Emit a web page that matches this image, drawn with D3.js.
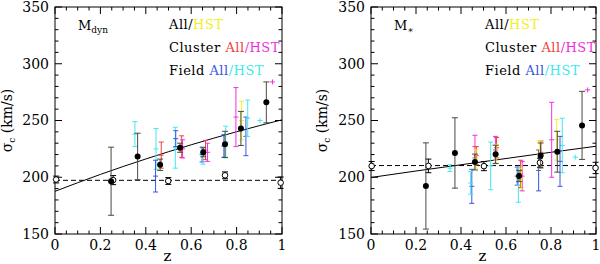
<!DOCTYPE html>
<html>
<head>
<meta charset="utf-8">
<script src="https://cdn.jsdelivr.net/npm/d3@7/dist/d3.min.js"></script>
<style>
body { margin: 0; background: #fff; }
svg { display: block; }
text { font-family: 'DejaVu Serif', 'Liberation Serif', serif; fill: #000; }
</style>
</head>
<body>
<svg id="chart" width="600" height="264"></svg>
<script>
// sigma_c vs redshift, two panels (M_dyn left, M_* right)

const yTicks = [150, 200, 250, 300, 350];
const xTicks = [0, 0.2, 0.4, 0.6, 0.8, 1];
const xTickLabels = ['0', '0.2', '0.4', '0.6', '0.8', '1'];

// fitted curves [z, sigma]
const dynFit = [[0, 187.6], [0.2, 202.5], [0.4, 216.1], [0.6, 228.6], [0.8, 240.1], [1, 250.6]];
const starFit = [[0, 199.8], [0.2, 205.5], [0.4, 211], [0.6, 216.5], [0.8, 222], [1, 227.3]];
const dynLocalLevel = 197.3;
const starLocalLevel = 210.3;

// binned "All" points [z, sigma, err]
const dynAll = [[0.247, 196.5, 30], [0.364, 218.3, 20.5], [0.463, 211, 5], [0.551, 226, 4], [0.653, 222, 4], [0.749, 229, 11.5], [0.819, 243, 15], [0.931, 266, 18]];
const starAll = [[0.244, 192.3, 38], [0.373, 221.4, 31], [0.462, 213.4, 7], [0.554, 220.2, 8], [0.658, 201.1, 5], [0.754, 219.2, 11], [0.828, 222.5, 18], [0.938, 245.7, 30]];

// local reference points (open circles)
const dynLocal = [[0.005, 198, 3], [0.256, 197.5, 4], [0.499, 196.7, 3], [0.749, 201.7, 3], [0.994, 195.2, 5]];
const starLocal = [[0.003, 209.9, 4], [0.255, 210, 6], [0.502, 209.8, 4], [0.751, 212.8, 4], [0.998, 208.2, 5]];

// sub-samples [series, z, sigma, err]  (err 0 -> plain cross)
const dynSub = [
    ['fdHst', 0.352, 238, 11], ['fdHst', 0.445, 225, 18], ['fdAll', 0.443, 201, 14], ['clAll', 0.468, 219.5, 11.5],
    ['fdHst', 0.53, 226, 18], ['fdAll', 0.532, 234, 7], ['clAll', 0.558, 227, 9.5], ['clHst', 0.562, 225, 8],
    ['fdAll', 0.648, 220, 6.5], ['fdHst', 0.652, 219, 7.5], ['clAll', 0.663, 224, 8.5], ['clHst', 0.672, 222, 8],
    ['fdAll', 0.744, 227.5, 10], ['fdHst', 0.752, 231, 14], ['clHst', 0.797, 253, 26], ['allHst', 0.822, 250, 17],
    ['fdAll', 0.841, 236, 17], ['fdHst', 0.849, 252, 16], ['fdHst', 0.903, 250, 0], ['clHst', 0.958, 284, 0]
];
const starSub = [
    ['fdHst', 0.351, 208, 3], ['fdAll', 0.448, 192, 15], ['fdHst', 0.443, 195, 10], ['clHst', 0.462, 227, 10],
    ['clAll', 0.468, 219, 8], ['allHst', 0.466, 216, 8], ['fdHst', 0.532, 210, 21], ['clAll', 0.558, 226, 9],
    ['clHst', 0.553, 224, 12], ['allHst', 0.556, 222, 7], ['fdAll', 0.65, 201, 8], ['fdHst', 0.655, 193, 15],
    ['clAll', 0.665, 203, 12], ['clHst', 0.672, 201, 13], ['allHst', 0.668, 199, 9], ['fdAll', 0.745, 206, 18],
    ['clAll', 0.755, 222, 10], ['allHst', 0.75, 220, 12], ['clHst', 0.803, 233, 33], ['allHst', 0.825, 233, 18],
    ['fdHst', 0.85, 228, 24], ['fdAll', 0.84, 214, 22], ['fdHst', 0.908, 217.7, 0], ['clHst', 0.963, 277, 0]
];

const colors = { allHst: '#f2f020', clAll: '#f0403a', clHst: '#f030e0', fdAll: '#3a55e0', fdHst: '#40e8f0' };
const barColor = '#4a4a3c';

const svg = d3.select('#chart');

function drawPanel(left, right, fit, level, allPts, localPts, subPts, massLabel, ylabX) {
    const top = 7, bottom = 234;
    const x = d3.scaleLinear().domain([0, 1]).range([left, right]);
    const y = d3.scaleLinear().domain([150, 350]).range([bottom, top]);
    const g = svg.append('g');

    // frame
    g.append('rect').attr('x', left).attr('y', top).attr('width', right - left).attr('height', bottom - top)
        .attr('fill', 'none').attr('stroke', '#000').attr('stroke-width', 1);

    // ticks on all four sides, pointing inwards
    const xMinor = d3.range(0, 1.0001, 0.05);
    const yMinor = d3.range(150, 350.01, 10);
    xMinor.forEach(v => {
        const major = xTicks.some(t => Math.abs(t - v) < 1e-6);
        const len = major ? 7 : 3.5;
        g.append('line').attr('x1', x(v)).attr('x2', x(v)).attr('y1', bottom).attr('y2', bottom - len).attr('stroke', '#000');
        g.append('line').attr('x1', x(v)).attr('x2', x(v)).attr('y1', top).attr('y2', top + len).attr('stroke', '#000');
    });
    yMinor.forEach(v => {
        const major = yTicks.includes(Math.round(v));
        const len = major ? 7 : 3.5;
        g.append('line').attr('x1', left).attr('x2', left + len).attr('y1', y(v)).attr('y2', y(v)).attr('stroke', '#000');
        g.append('line').attr('x1', right).attr('x2', right - len).attr('y1', y(v)).attr('y2', y(v)).attr('stroke', '#000');
    });

    g.selectAll('.yt').data(yTicks).enter().append('text')
        .attr('x', left - 6).attr('y', d => y(d)).attr('dy', '0.35em').attr('text-anchor', 'end')
        .style('font-size', '14px').text(d => d);
    g.selectAll('.xt').data(xTicks).enter().append('text')
        .attr('x', d => x(d)).attr('y', bottom + 16).attr('text-anchor', 'middle')
        .style('font-size', '14px').text((d, i) => xTickLabels[i]);

    g.append('text').attr('x', (left + right) / 2 - 1).attr('y', 261).attr('text-anchor', 'middle')
        .style('font-size', '15px').text('z');
    const yl = g.append('text').attr('transform', `translate(${ylabX},${(top + bottom) / 2}) rotate(-90)`)
        .attr('text-anchor', 'middle').style('font-size', '14px');
    yl.append('tspan').text('σ');
    yl.append('tspan').attr('dy', 3).style('font-size', '9px').text('c');
    yl.append('tspan').attr('dy', -3).text(' (km/s)');

    // mass label
    const ml = g.append('text').attr('x', left + 23).attr('y', 30).style('font-size', '13px');
    ml.append('tspan').text('M');
    ml.append('tspan').attr('dy', 3).style('font-size', '9px').text(massLabel);

    // legend
    const lx = left + 114;
    const legend = g.append('g').style('font-size', '13px').style('letter-spacing', '0.5px');
    const l1 = legend.append('text').attr('x', lx).attr('y', 29);
    l1.append('tspan').text('All/');
    l1.append('tspan').style('fill', colors.allHst).text('HST');
    const l2 = legend.append('text').attr('x', lx).attr('y', 52);
    l2.append('tspan').text('Cluster ');
    l2.append('tspan').style('fill', colors.clAll).text('All');
    l2.append('tspan').style('fill', colors.clHst).text('/HST');
    const l3 = legend.append('text').attr('x', lx).attr('y', 75);
    l3.append('tspan').text('Field ');
    l3.append('tspan').style('fill', colors.fdAll).text('All');
    l3.append('tspan').style('fill', colors.fdHst).text('/HST');

    // dashed local level and fit curve
    g.append('line').attr('x1', left).attr('x2', right).attr('y1', y(level)).attr('y2', y(level))
        .attr('stroke', '#000').attr('stroke-dasharray', '5,3');
    g.append('path').datum(fit)
        .attr('d', d3.line().x(d => x(d[0])).y(d => y(d[1])).curve(d3.curveMonotoneX))
        .attr('fill', 'none').attr('stroke', '#000').attr('stroke-width', 1);

    // error bar helper
    function errBar(sel, cx, cy, e, color, w) {
        sel.append('line').attr('x1', cx).attr('x2', cx).attr('y1', y(cy - e)).attr('y2', y(cy + e)).attr('stroke', color);
        [cy - e, cy + e].forEach(v => sel.append('line').attr('x1', cx - w).attr('x2', cx + w)
            .attr('y1', y(v)).attr('y2', y(v)).attr('stroke', color));
    }

    const subG = g.append('g');
    subPts.forEach(([s, z, v, e]) => {
        const c = colors[s];
        if (e > 0) errBar(subG, x(z), v, e, c, 2.5);
        subG.append('line').attr('x1', x(z) - 2.5).attr('x2', x(z) + 2.5).attr('y1', y(v)).attr('y2', y(v)).attr('stroke', c);
        if (e === 0) subG.append('line').attr('x1', x(z)).attr('x2', x(z)).attr('y1', y(v) - 2.5).attr('y2', y(v) + 2.5).attr('stroke', c);
    });

    const locG = g.append('g');
    localPts.forEach(([z, v, e]) => errBar(locG, x(z), v, e, '#000', 3));
    locG.selectAll('circle').data(localPts).enter().append('circle')
        .attr('cx', d => x(d[0])).attr('cy', d => y(d[1])).attr('r', 2.8)
        .attr('fill', '#fff').attr('stroke', '#000');

    const allG = g.append('g');
    allPts.forEach(([z, v, e]) => errBar(allG, x(z), v, e, barColor, 3));
    allG.selectAll('circle').data(allPts).enter().append('circle')
        .attr('cx', d => x(d[0])).attr('cy', d => y(d[1])).attr('r', 3).attr('fill', '#000');
}

drawPanel(55, 282, dynFit, dynLocalLevel, dynAll, dynLocal, dynSub, 'dyn', 12);
drawPanel(371, 596, starFit, starLocalLevel, starAll, starLocal, starSub, '∗', 327);
</script>
</body>
</html>
